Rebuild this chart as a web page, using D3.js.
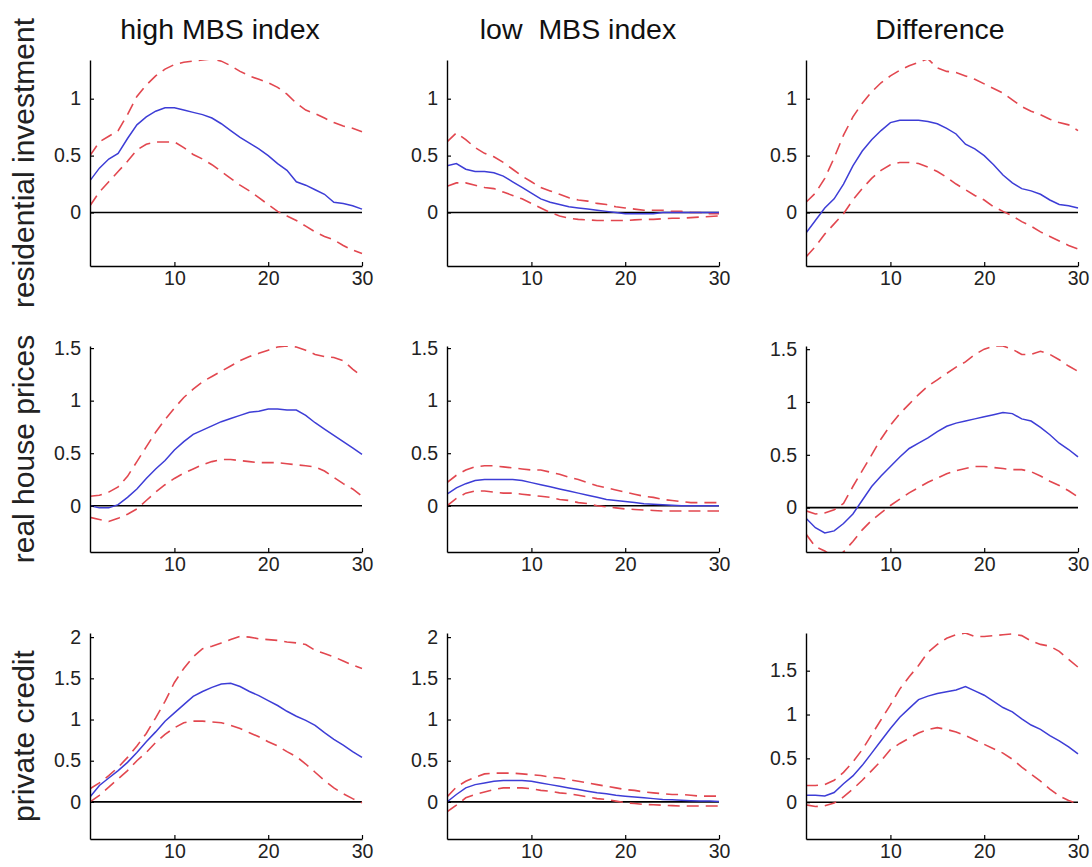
<!DOCTYPE html>
<html><head><meta charset="utf-8">
<script src="https://cdn.jsdelivr.net/npm/d3@7"></script>
<style>
body{margin:0;background:#fff}
svg text{font-family:"Liberation Sans",Arial,Helvetica,sans-serif}
</style>
</head><body>
<svg id="chart" width="1092" height="867"></svg>
<script>
// ---------------- data ----------------
const horizon = d3.range(1, 31);
const columnTitles = ["high MBS index", "low  MBS index", "Difference"];
const rowLabels = ["residential investment", "real house prices", "private credit"];
const xTickValues = [10, 20, 30];
const yTicksRes = [0, 0.5, 1];
const yTicksHouse = [0, 0.5, 1, 1.5];
const yTicksCredit = [0, 0.5, 1, 1.5, 2];
const yTicksCreditDiff = [0, 0.5, 1, 1.5];

// residential investment
const resHighMean = [0.28,0.39,0.47,0.52,0.65,0.77,0.84,0.89,0.92,0.92,0.90,0.88,0.86,0.83,0.78,0.72,0.66,0.61,0.56,0.50,0.43,0.37,0.27,0.24,0.20,0.16,0.09,0.08,0.06,0.03];
const resHighUp   = [0.50,0.62,0.67,0.72,0.86,1.02,1.12,1.20,1.26,1.30,1.32,1.33,1.34,1.35,1.33,1.29,1.24,1.20,1.17,1.14,1.10,1.04,0.96,0.90,0.87,0.83,0.79,0.76,0.74,0.71];
const resHighLo   = [0.06,0.18,0.27,0.36,0.45,0.55,0.60,0.62,0.62,0.62,0.57,0.51,0.47,0.42,0.36,0.30,0.24,0.19,0.13,0.07,0.01,-0.03,-0.07,-0.12,-0.17,-0.21,-0.24,-0.29,-0.33,-0.36];
const resLowMean  = [0.41,0.43,0.38,0.36,0.36,0.35,0.32,0.27,0.22,0.17,0.12,0.09,0.07,0.05,0.04,0.03,0.02,0.01,0.00,-0.01,-0.01,-0.01,-0.01,0.00,0.00,0.00,0.00,0.00,0.00,0.00];
const resLowUp    = [0.62,0.70,0.64,0.57,0.52,0.49,0.44,0.38,0.32,0.27,0.22,0.19,0.16,0.13,0.11,0.10,0.08,0.07,0.05,0.04,0.03,0.02,0.02,0.02,0.01,0.01,0.00,0.00,-0.01,-0.01];
const resLowLo    = [0.23,0.26,0.26,0.24,0.22,0.21,0.18,0.15,0.12,0.08,0.04,0.00,-0.03,-0.05,-0.06,-0.065,-0.07,-0.07,-0.07,-0.07,-0.065,-0.06,-0.06,-0.055,-0.05,-0.05,-0.045,-0.04,-0.035,-0.03];
const resDiffMean = [-0.18,-0.07,0.04,0.12,0.25,0.41,0.54,0.64,0.72,0.79,0.81,0.81,0.81,0.80,0.78,0.74,0.69,0.60,0.56,0.50,0.42,0.33,0.26,0.21,0.19,0.16,0.11,0.07,0.06,0.04];
const resDiffUp   = [0.09,0.17,0.30,0.48,0.68,0.84,0.96,1.06,1.14,1.20,1.25,1.29,1.32,1.35,1.27,1.24,1.23,1.20,1.17,1.13,1.09,1.05,0.99,0.93,0.89,0.86,0.82,0.79,0.77,0.72];
const resDiffLo   = [-0.39,-0.30,-0.19,-0.10,-0.01,0.11,0.21,0.30,0.37,0.42,0.44,0.44,0.43,0.40,0.36,0.31,0.25,0.20,0.15,0.11,0.05,0.01,-0.03,-0.08,-0.12,-0.17,-0.21,-0.25,-0.29,-0.32];

// real house prices
const houseHighMean = [0.00,-0.02,-0.02,0.01,0.08,0.16,0.26,0.35,0.43,0.53,0.61,0.68,0.72,0.76,0.80,0.83,0.86,0.89,0.90,0.92,0.92,0.91,0.91,0.86,0.79,0.73,0.67,0.61,0.55,0.49];
const houseHighUp   = [0.09,0.10,0.13,0.18,0.28,0.42,0.56,0.70,0.82,0.93,1.03,1.11,1.18,1.23,1.28,1.33,1.38,1.42,1.45,1.48,1.51,1.52,1.51,1.48,1.44,1.42,1.41,1.38,1.30,1.23];
const houseHighLo   = [-0.11,-0.13,-0.15,-0.12,-0.08,-0.03,0.05,0.13,0.20,0.26,0.31,0.35,0.39,0.42,0.44,0.44,0.43,0.42,0.41,0.41,0.41,0.40,0.39,0.38,0.37,0.33,0.27,0.21,0.16,0.09];
const houseLowMean  = [0.11,0.17,0.21,0.24,0.25,0.25,0.25,0.25,0.24,0.22,0.20,0.18,0.16,0.14,0.12,0.10,0.08,0.06,0.05,0.04,0.03,0.02,0.015,0.01,0.005,0.00,0.00,0.00,0.00,0.00];
const houseLowUp    = [0.22,0.29,0.34,0.37,0.38,0.38,0.37,0.36,0.35,0.34,0.34,0.32,0.30,0.27,0.25,0.22,0.19,0.17,0.15,0.13,0.11,0.09,0.08,0.06,0.05,0.04,0.03,0.03,0.03,0.03];
const houseLowLo    = [0.00,0.07,0.12,0.14,0.14,0.13,0.12,0.12,0.11,0.10,0.09,0.08,0.06,0.05,0.03,0.02,0.00,-0.01,-0.02,-0.03,-0.035,-0.04,-0.045,-0.05,-0.05,-0.05,-0.05,-0.05,-0.05,-0.05];
const houseDiffMean = [-0.10,-0.19,-0.24,-0.22,-0.15,-0.06,0.07,0.20,0.30,0.39,0.48,0.56,0.61,0.66,0.72,0.77,0.80,0.82,0.84,0.86,0.88,0.90,0.89,0.84,0.82,0.76,0.69,0.61,0.55,0.48];
const houseDiffUp   = [-0.03,-0.06,-0.05,-0.02,0.04,0.20,0.35,0.50,0.65,0.78,0.89,0.98,1.07,1.15,1.21,1.27,1.33,1.38,1.45,1.50,1.53,1.53,1.50,1.45,1.45,1.48,1.45,1.40,1.34,1.29];
const houseDiffLo   = [-0.25,-0.37,-0.41,-0.47,-0.42,-0.32,-0.21,-0.12,-0.05,0.02,0.08,0.14,0.19,0.24,0.28,0.32,0.35,0.37,0.39,0.39,0.38,0.37,0.36,0.36,0.34,0.30,0.25,0.21,0.16,0.10];

// private credit
const creditHighMean = [0.06,0.20,0.29,0.38,0.48,0.60,0.73,0.85,0.98,1.08,1.18,1.28,1.34,1.39,1.43,1.44,1.40,1.34,1.29,1.23,1.17,1.10,1.04,0.99,0.93,0.84,0.76,0.69,0.61,0.54];
const creditHighUp   = [0.16,0.23,0.32,0.42,0.54,0.68,0.83,1.02,1.22,1.45,1.62,1.76,1.86,1.89,1.93,1.97,2.01,2.00,1.98,1.97,1.96,1.94,1.93,1.91,1.84,1.80,1.76,1.71,1.66,1.62];
const creditHighLo   = [0.00,0.08,0.18,0.28,0.38,0.50,0.60,0.72,0.82,0.90,0.96,0.98,0.98,0.97,0.96,0.93,0.89,0.84,0.79,0.73,0.68,0.61,0.55,0.46,0.36,0.26,0.17,0.10,0.04,-0.01];
const creditLowMean  = [0.00,0.09,0.17,0.21,0.23,0.25,0.26,0.26,0.26,0.25,0.23,0.21,0.19,0.17,0.15,0.13,0.11,0.10,0.08,0.07,0.06,0.05,0.04,0.03,0.025,0.02,0.015,0.01,0.01,0.005];
const creditLowUp    = [0.06,0.18,0.25,0.30,0.34,0.35,0.35,0.35,0.34,0.33,0.32,0.30,0.29,0.27,0.25,0.23,0.21,0.19,0.17,0.15,0.14,0.12,0.11,0.10,0.09,0.09,0.08,0.07,0.07,0.07];
const creditLowLo    = [-0.12,-0.04,0.05,0.09,0.12,0.15,0.17,0.17,0.17,0.16,0.14,0.13,0.11,0.10,0.08,0.06,0.04,0.03,0.01,-0.01,-0.02,-0.03,-0.035,-0.04,-0.045,-0.05,-0.05,-0.05,-0.05,-0.05];
const creditDiffMean = [0.08,0.08,0.07,0.11,0.21,0.30,0.42,0.56,0.70,0.84,0.97,1.07,1.17,1.21,1.24,1.26,1.28,1.32,1.27,1.22,1.15,1.08,1.03,0.95,0.88,0.83,0.76,0.70,0.63,0.55];
const creditDiffUp   = [0.19,0.19,0.20,0.25,0.34,0.46,0.60,0.77,0.94,1.11,1.29,1.43,1.56,1.71,1.80,1.87,1.91,1.93,1.89,1.89,1.90,1.91,1.92,1.90,1.84,1.80,1.78,1.72,1.63,1.54];
const creditDiffLo   = [-0.03,-0.05,-0.04,-0.01,0.06,0.15,0.25,0.36,0.47,0.60,0.67,0.73,0.79,0.83,0.85,0.83,0.80,0.76,0.71,0.66,0.61,0.56,0.49,0.40,0.32,0.24,0.15,0.07,0.02,-0.02];

// ---------------- layout ----------------
const colRanges = [[90, 362], [447, 719], [806, 1078]];
const rowRanges = [[60, 266], [346, 552], [633, 839]];
const titleCenters = [220, 578, 940];

const panels = [
  {row:0,col:0,mean:resHighMean,up:resHighUp,lo:resHighLo,dom:[-0.47,1.34],ticks:yTicksRes},
  {row:0,col:1,mean:resLowMean,up:resLowUp,lo:resLowLo,dom:[-0.47,1.34],ticks:yTicksRes},
  {row:0,col:2,mean:resDiffMean,up:resDiffUp,lo:resDiffLo,dom:[-0.47,1.34],ticks:yTicksRes},
  {row:1,col:0,mean:houseHighMean,up:houseHighUp,lo:houseHighLo,dom:[-0.44,1.52],ticks:yTicksHouse},
  {row:1,col:1,mean:houseLowMean,up:houseLowUp,lo:houseLowLo,dom:[-0.44,1.52],ticks:yTicksHouse},
  {row:1,col:2,mean:houseDiffMean,up:houseDiffUp,lo:houseDiffLo,dom:[-0.42,1.53],ticks:yTicksHouse},
  {row:2,col:0,mean:creditHighMean,up:creditHighUp,lo:creditHighLo,dom:[-0.45,2.05],ticks:yTicksCredit},
  {row:2,col:1,mean:creditLowMean,up:creditLowUp,lo:creditLowLo,dom:[-0.45,2.05],ticks:yTicksCredit},
  {row:2,col:2,mean:creditDiffMean,up:creditDiffUp,lo:creditDiffLo,dom:[-0.42,1.93],ticks:yTicksCreditDiff}
];

const svg = d3.select("#chart");
const defs = svg.append("defs");
const fmt = d => d3.format("")(d);

panels.forEach((p, i) => {
  const x = d3.scaleLinear().domain([1, 30]).range(colRanges[p.col]);
  const y = d3.scaleLinear().domain(p.dom).range([rowRanges[p.row][1], rowRanges[p.row][0]]);
  const g = svg.append("g");

  defs.append("clipPath").attr("id", "clip" + i)
    .append("rect")
    .attr("x", x.range()[0]).attr("y", y.range()[1])
    .attr("width", x.range()[1] - x.range()[0] + 2)
    .attr("height", y.range()[0] - y.range()[1]);

  const plot = g.append("g").attr("clip-path", "url(#clip" + i + ")");
  const line = d3.line().x((d, j) => x(horizon[j])).y(d => y(d));

  // zero line
  plot.append("line")
    .attr("x1", x(1)).attr("x2", x(30)).attr("y1", y(0)).attr("y2", y(0))
    .attr("stroke", "#000").attr("stroke-width", 1.6);

  [p.up, p.lo].forEach(arr => {
    plot.append("path").datum(arr).attr("d", line)
      .attr("fill", "none").attr("stroke", "#e2474f").attr("stroke-width", 1.6)
      .attr("stroke-dasharray", "12,7");
  });
  plot.append("path").datum(p.mean).attr("d", line)
    .attr("fill", "none").attr("stroke", "#3d3dd6").attr("stroke-width", 1.5);

  // axes
  const ax = g.append("g").attr("transform", `translate(0,${y.range()[0]})`)
    .call(d3.axisBottom(x).tickValues(xTickValues).tickSizeInner(-4).tickSizeOuter(0).tickPadding(5).tickFormat(fmt));
  const ay = g.append("g").attr("transform", `translate(${x.range()[0]},0)`)
    .call(d3.axisLeft(y).tickValues(p.ticks).tickSizeInner(-4).tickSizeOuter(0).tickPadding(9).tickFormat(fmt));
  [ax, ay].forEach(a => {
    a.attr("font-size", null).attr("font-family", null);
    a.select(".domain").attr("stroke", "#000").attr("stroke-width", 1.4);
    a.selectAll(".tick line").attr("stroke", "#000").attr("stroke-width", 1.2);
    a.selectAll(".tick text").attr("fill", "#222").style("font-size", "19.5px");
  });
});

// column titles
columnTitles.forEach((t, c) => {
  svg.append("text").attr("x", titleCenters[c]).attr("y", 39)
    .attr("text-anchor", "middle").style("font-size", "28.5px").style("white-space", "pre")
    .attr("fill", "#111").text(t);
});

// row labels
rowLabels.forEach((t, r) => {
  const cy = (rowRanges[r][0] + rowRanges[r][1]) / 2;
  svg.append("text").attr("transform", `translate(34,${cy}) rotate(-90)`)
    .attr("text-anchor", "middle").style("font-size", "30px")
    .attr("fill", "#222").text(t);
});
</script>
</body></html>
